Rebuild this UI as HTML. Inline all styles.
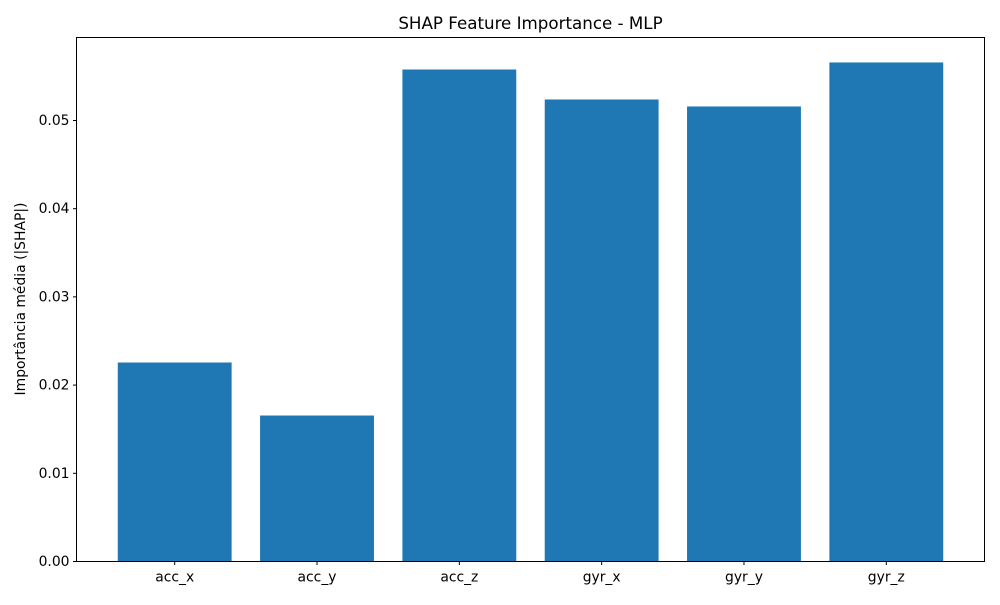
<!DOCTYPE html>
<html><head><meta charset="utf-8"><style>
html,body{margin:0;padding:0;background:#fff;}
text{font-family:"DejaVu Sans","Liberation Sans",sans-serif;}
</style></head><body>
<svg id="chart" width="1000" height="600" xmlns="http://www.w3.org/2000/svg">
<rect width="1000" height="600" fill="#fff"/>
<text x="530.5" y="29" font-size="16.7" text-anchor="middle" fill="#000">SHAP Feature Importance - MLP</text>
<text transform="translate(25,299) rotate(-90)" font-size="13.9" text-anchor="middle" fill="#000">Importância média (|SHAP|)</text>
<g id="bars"></g>
<g id="yticks"></g>
<g id="xticks"></g>
<rect x="76.5" y="37.5" width="908" height="524" fill="none" stroke="#000" stroke-width="1"/>
</svg>
<script>
const categories = ["acc_x","acc_y","acc_z","gyr_x","gyr_y","gyr_z"];
const values = [0.02256,0.01655,0.05578,0.05238,0.05159,0.05658];
const yTicks = [0,0.01,0.02,0.03,0.04,0.05];
const yTickLabels = ["0.00","0.01","0.02","0.03","0.04","0.05"];

const L=76.5,R=984.5,T=37.5,B=561.5;
const ymax=Math.max(...values)*1.05;
const xmin=-0.4-0.05*(categories.length-0.2), xmax=categories.length-1+0.4+0.05*(categories.length-0.2);
const xs=v=>L+(v-xmin)/(xmax-xmin)*(R-L);
const ys=v=>B-v/ymax*(B-T);
const NS="http://www.w3.org/2000/svg";
function mk(tag,attrs,parent){const e=document.createElementNS(NS,tag);for(const k in attrs)e.setAttribute(k,attrs[k]);parent.appendChild(e);return e;}
const bars=document.getElementById('bars'),yt=document.getElementById('yticks'),xt=document.getElementById('xticks');
categories.forEach((c,i)=>{
  const x0=xs(i-0.4),x1=xs(i+0.4);
  const r=mk('rect',{x:x0,y:ys(values[i]),width:x1-x0,height:B-ys(values[i]),fill:'#1f77b4'},bars);
  
  
  const t=mk('line',{x1:xs(i),x2:xs(i),y1:B,y2:B+3.5,stroke:'#000'},xt);
  
  
  const lb=mk('text',{x:xs(i),y:B+20,'font-size':13.9,'text-anchor':'middle',fill:'#000'},xt);
  lb.textContent=c;
  
  
});
yTicks.forEach((v,i)=>{
  const y=ys(v);
  const t=mk('line',{x1:L-3.5,x2:L,y1:y,y2:y,stroke:'#000'},yt);
  
  
  const lb=mk('text',{x:L-7,y:y+4.5,'font-size':13.9,'text-anchor':'end',fill:'#000'},yt);
  lb.textContent=yTickLabels[i];
  
  
});
</script>
</body></html>
